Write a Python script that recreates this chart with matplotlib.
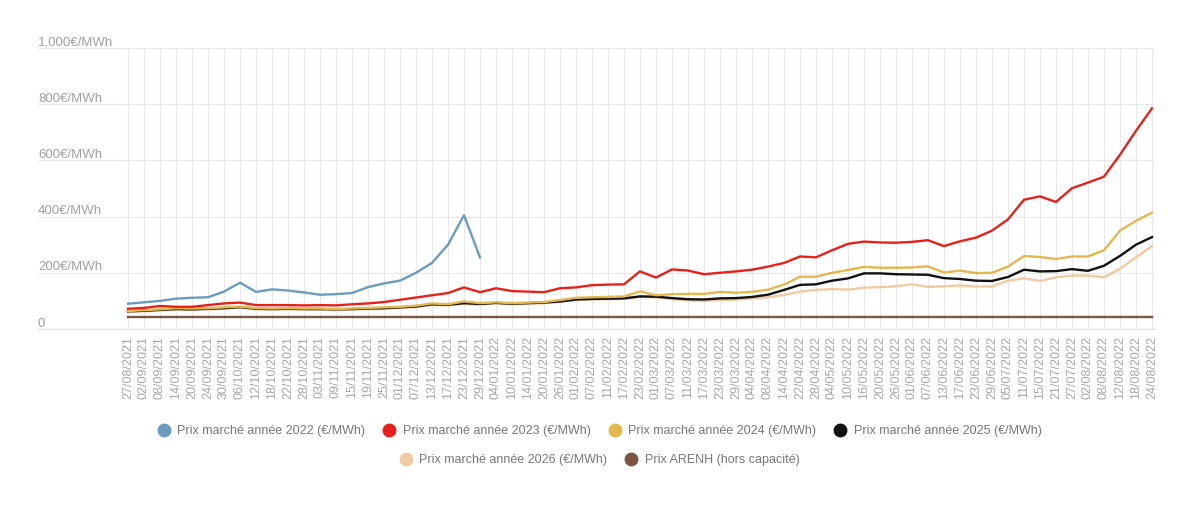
import matplotlib
matplotlib.use("Agg")
import matplotlib.pyplot as plt
from matplotlib.lines import Line2D

plt.rcParams['font.family'] = ['Liberation Sans', 'DejaVu Sans']

# dates (one every 4 trading days)
dates = ["27/08/2021", "02/09/2021", "08/09/2021", "14/09/2021", "20/09/2021", "24/09/2021",
         "30/09/2021", "06/10/2021", "12/10/2021", "18/10/2021", "22/10/2021", "28/10/2021",
         "03/11/2021", "09/11/2021", "15/11/2021", "19/11/2021", "25/11/2021", "01/12/2021",
         "07/12/2021", "13/12/2021", "17/12/2021", "23/12/2021", "29/12/2021", "04/01/2022",
         "10/01/2022", "14/01/2022", "20/01/2022", "26/01/2022", "01/02/2022", "07/02/2022",
         "11/02/2022", "17/02/2022", "23/02/2022", "01/03/2022", "07/03/2022", "11/03/2022",
         "17/03/2022", "23/03/2022", "29/03/2022", "04/04/2022", "08/04/2022", "14/04/2022",
         "22/04/2022", "28/04/2022", "04/05/2022", "10/05/2022", "16/05/2022", "20/05/2022",
         "26/05/2022", "01/06/2022", "07/06/2022", "13/06/2022", "17/06/2022", "23/06/2022",
         "29/06/2022", "05/07/2022", "11/07/2022", "15/07/2022", "21/07/2022", "27/07/2022",
         "02/08/2022", "08/08/2022", "12/08/2022", "18/08/2022", "24/08/2022"]

# prix marché (€/MWh)
prix_2022 = [90, 95, 100, 108, 111, 113, 133, 165, 132, 141, 137, 130, 122, 124, 128, 149,
             162, 172, 200, 235, 300, 405, 255]
prix_2023 = [72, 75, 82, 79, 79, 85, 91, 94, 85, 85, 85, 84, 85, 84, 88, 91,
             96, 104, 112, 120, 128, 148, 131, 145, 135, 133, 131, 145, 148, 156, 158, 159,
             205, 183, 212, 208, 195, 200, 205, 211, 222, 235, 258, 255, 280, 303, 311, 308,
             307, 310, 316, 295, 312, 325, 350, 390, 460, 472, 452, 501, 521, 542, 620, 705, 785]
prix_2024 = [64, 67, 70, 74, 73, 74, 77, 80, 74, 73, 74, 73, 73, 71, 73, 75,
             77, 79, 83, 91, 88, 98, 92, 95, 92, 94, 96, 103, 111, 113, 114, 116,
             134, 120, 124, 125, 125, 132, 129, 132, 140, 158, 186, 186, 200, 210, 221, 218,
             218, 219, 223, 201, 208, 199, 200, 222, 260, 256, 249, 258, 258, 280, 350, 385, 414]
prix_2025 = [63, 65, 68, 71, 70, 72, 74, 78, 72, 71, 72, 71, 71, 70, 71, 73,
             74, 77, 80, 88, 86, 92, 89, 93, 90, 92, 94, 98, 105, 107, 108, 109,
             116, 115, 110, 106, 105, 109, 110, 114, 122, 139, 157, 159, 172, 180, 198, 198,
             195, 194, 193, 181, 178, 172, 171, 185, 211, 205, 206, 213, 207, 225, 260, 300, 327]
prix_2026 = [61, 63, 66, 69, 68, 70, 72, 76, 70, 69, 70, 69, 69, 68, 69, 71,
             72, 75, 78, 86, 84, 90, 87, 91, 88, 90, 92, 96, 103, 105, 106, 107,
             114, 112, 106, 102, 100, 103, 104, 109, 113, 121, 133, 139, 142, 140, 147, 149,
             152, 159, 150, 152, 155, 151, 151, 172, 180, 171, 184, 190, 190, 184, 214, 255, 295]
arenh = [42] * len(dates)

series = [
    ("Prix marché année 2022 (€/MWh)", prix_2022, "#6a9bc0"),
    ("Prix marché année 2023 (€/MWh)", prix_2023, "#e8201a"),
    ("Prix marché année 2024 (€/MWh)", prix_2024, "#e4b84c"),
    ("Prix marché année 2025 (€/MWh)", prix_2025, "#111111"),
    ("Prix marché année 2026 (€/MWh)", prix_2026, "#f2caa2"),
    ("Prix ARENH (hors capacité)", arenh, "#7d5544"),
]

fig = plt.figure(figsize=(12, 5.27), dpi=100)
ax = fig.add_axes([38 / 1200, 1 - 329 / 527, (1155 - 38) / 1200, (329 - 48) / 527])

# ARENH first, the others on top in reverse order
for name, vals, col in series[::-1]:
    ax.plot(range(len(vals)), vals, color=col, lw=1.7, solid_joinstyle='round')

ax.set_ylim(0, 1000)
ax.set_xlim(-5.625, 64.19)
ax.set_xticks(range(len(dates)))
ax.set_xticklabels(dates, rotation=90, fontsize=9, color="#a6a6a6")
ax.set_yticks([0, 200, 400, 600, 800, 1000])
ax.set_yticklabels([])
ax.tick_params(axis='both', length=0)
ax.tick_params(axis='x', pad=5)
ax.grid(True, color="#e8e8e8", lw=0.8)
ax.set_axisbelow(True)
for s in ["top", "right", "left"]:
    ax.spines[s].set_visible(False)
ax.spines["bottom"].set_color("#e0e0e0")

# y labels sit just above their grid line
ylabels = ["0", "200€/MWh", "400€/MWh", "600€/MWh", "800€/MWh", "1,000€/MWh"]
for v, lab in zip([0, 200, 400, 600, 800, 1000], ylabels):
    ax.annotate(lab, (0, v), xycoords=ax.get_yaxis_transform(), xytext=(0, -0.5),
                textcoords='offset points', ha='left', va='bottom',
                fontsize=9.5, color="#a0a0a0")

def make_handles(items):
    return [Line2D([], [], marker='o', ls='none', color=c, markersize=9) for _, _, c in items]

fig.legend(make_handles(series[:4]), [s[0] for s in series[:4]], loc='center',
           bbox_to_anchor=(0.497, 1 - 431 / 527), ncol=4, frameon=False, fontsize=9,
           handletextpad=0.1, columnspacing=0.9, labelcolor="#777777")
fig.legend(make_handles(series[4:]), [s[0] for s in series[4:]], loc='center',
           bbox_to_anchor=(0.497, 1 - 460 / 527), ncol=2, frameon=False, fontsize=9,
           handletextpad=0.1, columnspacing=0.9, labelcolor="#777777")

fig.savefig("out.png", dpi=100, facecolor="white")
